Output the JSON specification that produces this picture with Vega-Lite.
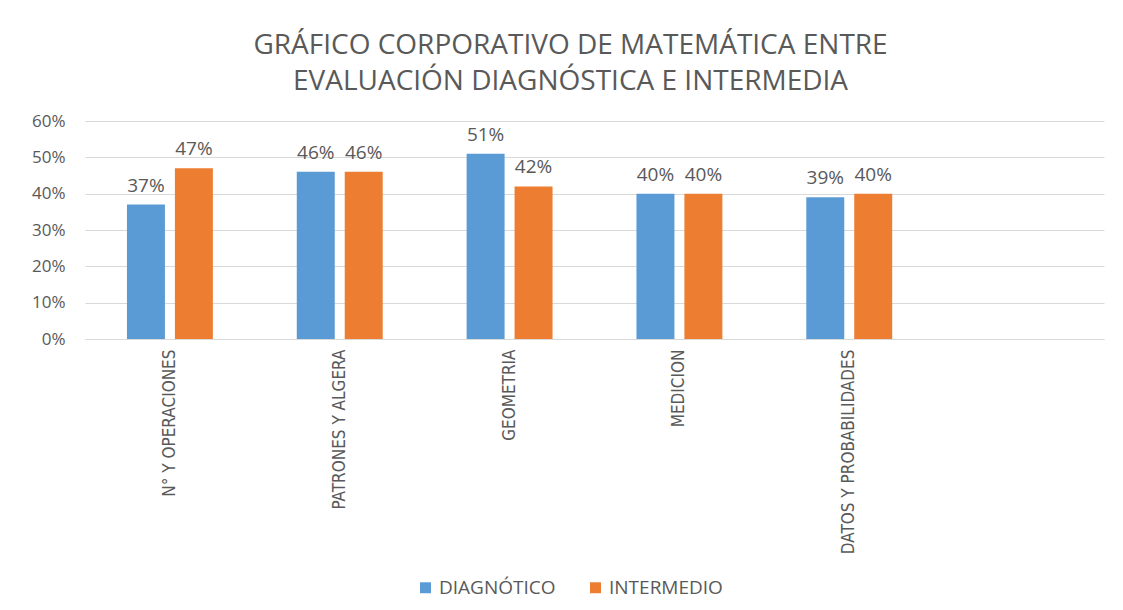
{
  "$schema": "https://vega.github.io/schema/vega-lite/v6.json",
  "autosize": "none",
  "width": 1019,
  "height": 218,
  "padding": {"left": 85, "top": 121, "right": 19, "bottom": 271},
  "background": "white",
  "title": {
    "text": ["GRÁFICO CORPORATIVO DE MATEMÁTICA ENTRE", "EVALUACIÓN DIAGNÓSTICA E INTERMEDIA"],
    "anchor": "middle",
    "frame": "group",
    "dx": -24,
    "font": "Open Sans",
    "fontSize": 28,
    "fontWeight": "normal",
    "color": "#595959",
    "lineHeight": 36,
    "offset": 16
  },
  "data": {
    "values": [
      {"categoria": "N° Y OPERACIONES", "serie": "DIAGNÓTICO", "valor": 0.37},
      {"categoria": "N° Y OPERACIONES", "serie": "INTERMEDIO", "valor": 0.47},
      {"categoria": "PATRONES Y ALGERA", "serie": "DIAGNÓTICO", "valor": 0.46},
      {"categoria": "PATRONES Y ALGERA", "serie": "INTERMEDIO", "valor": 0.46},
      {"categoria": "GEOMETRIA", "serie": "DIAGNÓTICO", "valor": 0.51},
      {"categoria": "GEOMETRIA", "serie": "INTERMEDIO", "valor": 0.42},
      {"categoria": "MEDICION", "serie": "DIAGNÓTICO", "valor": 0.40},
      {"categoria": "MEDICION", "serie": "INTERMEDIO", "valor": 0.40},
      {"categoria": "DATOS Y PROBABILIDADES", "serie": "DIAGNÓTICO", "valor": 0.39},
      {"categoria": "DATOS Y PROBABILIDADES", "serie": "INTERMEDIO", "valor": 0.40}
    ]
  },
  "encoding": {
    "x": {
      "field": "categoria",
      "type": "nominal",
      "sort": null,
      "scale": {
        "domain": ["N° Y OPERACIONES", "PATRONES Y ALGERA", "GEOMETRIA", "MEDICION", "DATOS Y PROBABILIDADES", " "],
        "paddingInner": 0,
        "paddingOuter": 0
      },
      "axis": {
        "title": null,
        "labelAngle": 270,
        "labelFont": "DejaVu Sans Condensed",
        "labelFontSize": 17,
        "labelColor": "#595959",
        "labelPadding": 10,
        "labelLimit": 400,
        "ticks": false,
        "domain": true,
        "domainColor": "#d9d9d9",
        "domainWidth": 1,
        "grid": false
      }
    },
    "xOffset": {
      "field": "serie",
      "type": "nominal",
      "scale": {"domain": ["DIAGNÓTICO", "INTERMEDIO"], "paddingInner": 0.208, "paddingOuter": 0.875}
    },
    "y": {
      "field": "valor",
      "type": "quantitative",
      "scale": {"domain": [0, 0.6], "nice": false},
      "axis": {
        "title": null,
        "format": ".0%",
        "values": [0, 0.1, 0.2, 0.3, 0.4, 0.5, 0.6],
        "labelFont": "Open Sans",
        "labelFontSize": 17,
        "labelColor": "#595959",
        "labelPadding": 20,
        "ticks": false,
        "domain": false,
        "grid": true,
        "gridColor": "#d9d9d9",
        "gridWidth": 1
      }
    }
  },
  "layer": [
    {
      "mark": {"type": "bar"},
      "encoding": {
        "color": {
          "field": "serie",
          "type": "nominal",
          "scale": {"domain": ["DIAGNÓTICO", "INTERMEDIO"], "range": ["#5B9BD5", "#ED7D31"]},
          "legend": {
            "title": null,
            "orient": "none",
            "direction": "horizontal",
            "legendX": 331,
            "legendY": 457,
            "symbolType": "square",
            "symbolSize": 120,
            "symbolStrokeWidth": 0,
            "labelFont": "Open Sans",
            "labelFontSize": 19,
            "labelColor": "#595959",
            "columnPadding": 30,
            "labelOffset": 4
          }
        }
      }
    },
    {
      "mark": {"type": "text", "font": "Open Sans", "fontSize": 19, "color": "#595959", "baseline": "alphabetic", "dy": -13},
      "encoding": {
        "text": {"field": "valor", "type": "quantitative", "format": ".0%"}
      }
    }
  ],
  "config": {
    "view": {"stroke": null}
  }
}
